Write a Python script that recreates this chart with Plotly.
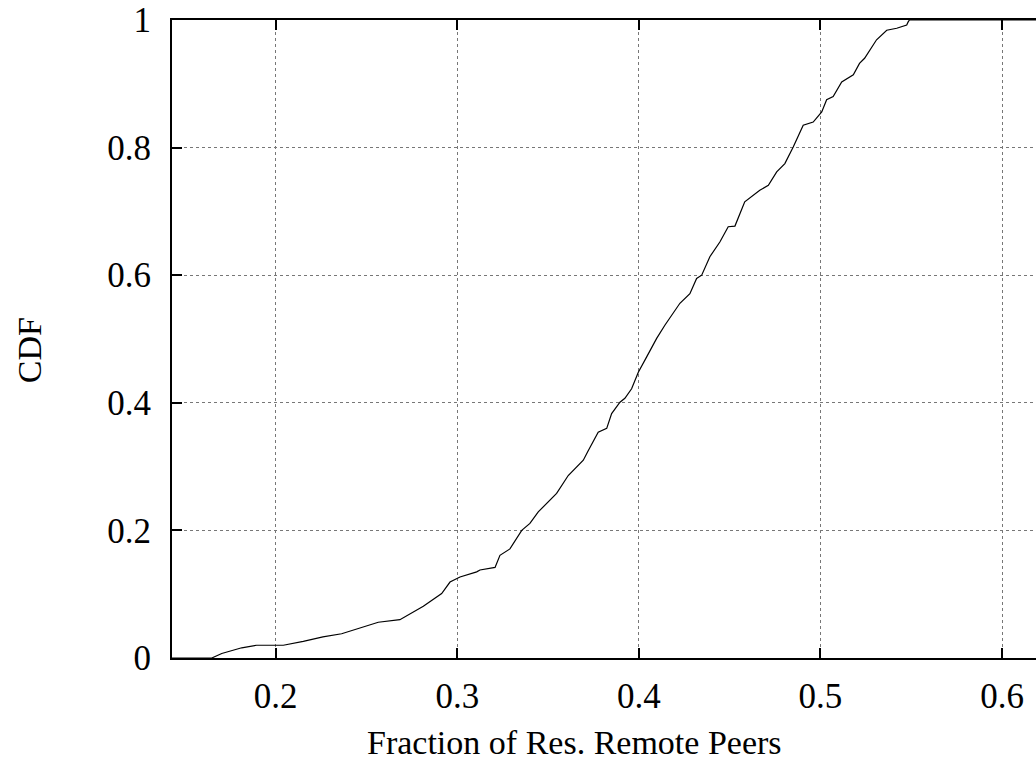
import plotly.graph_objects as go

# Empirical CDF of the fraction of resolvable remote peers
fraction = [0.1400, 0.1648, 0.1703, 0.1813, 0.1895, 0.2042, 0.2152, 0.2260, 0.2363,
            0.2464, 0.2565, 0.2684, 0.2813, 0.2914, 0.2960, 0.3015, 0.3107, 0.3125,
            0.3208, 0.3235, 0.3290, 0.3355, 0.3400, 0.3446, 0.3492, 0.3547, 0.3611,
            0.3657, 0.3694, 0.3721, 0.3776, 0.3823, 0.3850, 0.3896, 0.3923, 0.3960,
            0.3997, 0.4043, 0.4098, 0.4144, 0.4226, 0.4281, 0.4318, 0.4346, 0.4391,
            0.4446, 0.4492, 0.4529, 0.4583, 0.4666, 0.4713, 0.4759, 0.4804, 0.4850,
            0.4905, 0.4960, 0.5007, 0.5034, 0.5070, 0.5117, 0.5181, 0.5215, 0.5243,
            0.5309, 0.5365, 0.5420, 0.5475, 0.5483, 0.5490, 0.6500]
cdf = [0.000, 0.000, 0.007, 0.016, 0.020, 0.020, 0.026, 0.033, 0.038,
       0.047, 0.056, 0.060, 0.081, 0.101, 0.119, 0.127, 0.135, 0.138,
       0.142, 0.161, 0.171, 0.200, 0.211, 0.229, 0.242, 0.258, 0.286,
       0.299, 0.310, 0.325, 0.354, 0.360, 0.383, 0.401, 0.407, 0.422,
       0.448, 0.472, 0.501, 0.522, 0.556, 0.571, 0.595, 0.600, 0.629,
       0.652, 0.676, 0.677, 0.715, 0.733, 0.741, 0.762, 0.775, 0.801,
       0.835, 0.840, 0.856, 0.875, 0.880, 0.903, 0.914, 0.932, 0.940,
       0.969, 0.984, 0.987, 0.992, 0.997, 1.000, 1.000]

x_ticks = [0.2, 0.3, 0.4, 0.5, 0.6]
x_tick_text = ["0.2", "0.3", "0.4", "0.5", "0.6"]
y_ticks = [0, 0.2, 0.4, 0.6, 0.8, 1]
y_tick_text = ["0", "0.2", "0.4", "0.6", "0.8", "1"]

FONT = "Liberation Serif, Times New Roman, serif"

fig = go.Figure()
fig.add_trace(go.Scatter(
    x=fraction, y=cdf, mode="lines",
    line=dict(color="black", width=1.2),
    showlegend=False, hoverinfo="skip",
))

fig.update_layout(
    width=1036, height=769,
    margin=dict(l=172, r=0, t=20, b=111),
    paper_bgcolor="white", plot_bgcolor="white",
    font=dict(family=FONT, size=35, color="black"),
)

fig.update_xaxes(
    range=[0.1429, 0.6187],
    tickvals=x_ticks, ticktext=x_tick_text,
    ticks="inside", ticklen=10, tickwidth=1.5, tickcolor="black",
    showline=True, linecolor="black", linewidth=2, mirror="ticks",
    showgrid=True, gridcolor="#777777", griddash="dot", gridwidth=1,
    zeroline=False, ticklabelstandoff=6,
    tickfont=dict(family=FONT, size=35, color="black"),
)
fig.update_yaxes(
    range=[0, 1],
    tickvals=y_ticks, ticktext=y_tick_text,
    ticks="inside", ticklen=10, tickwidth=1.5, tickcolor="black",
    showline=True, linecolor="black", linewidth=2, mirror=False,
    showgrid=True, gridcolor="#777777", griddash="dot", gridwidth=1,
    zeroline=False, ticklabelstandoff=12,
    tickfont=dict(family=FONT, size=35, color="black"),
)

fig.add_annotation(
    text="Fraction of Res. Remote Peers",
    xref="paper", yref="paper", x=0.4664, y=-0.132,
    xanchor="center", yanchor="middle", showarrow=False,
    font=dict(family=FONT, size=34, color="black"),
)
fig.add_annotation(
    text="CDF",
    xref="paper", yref="paper", x=-0.165, y=0.483,
    xanchor="center", yanchor="middle", showarrow=False, textangle=-90,
    font=dict(family=FONT, size=34, color="black"),
)

fig.write_html("out.html")
